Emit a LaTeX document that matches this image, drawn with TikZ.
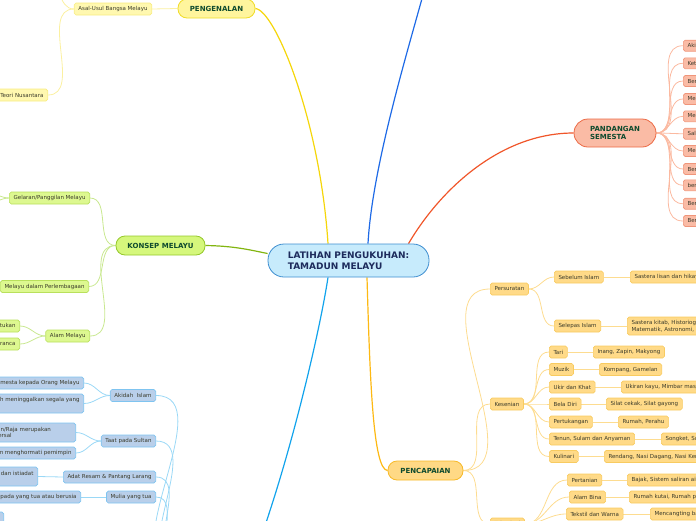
\documentclass[tikz,border=0pt]{standalone}
\usepackage{fontspec}
\setmainfont{DejaVu Sans}
\usetikzlibrary{backgrounds}
\definecolor{cfill}{HTML}{C7EBFC}
\definecolor{cdraw}{HTML}{3E8ED0}
\definecolor{ctext}{HTML}{1D2B5C}
\definecolor{titletext}{HTML}{0E4A2E}
\definecolor{leaftext}{HTML}{3A3A2A}
\definecolor{yline}{HTML}{F5D60A}
\definecolor{ytfill}{HTML}{FFF59D}
\definecolor{ytdraw}{HTML}{F0DC28}
\definecolor{yfill}{HTML}{FFF8B0}
\definecolor{ydraw}{HTML}{F8EC80}
\definecolor{ylink}{HTML}{FBF0A0}
\definecolor{gline}{HTML}{82B510}
\definecolor{gtfill}{HTML}{D5F77C}
\definecolor{gtdraw}{HTML}{95C82A}
\definecolor{gfill}{HTML}{DDF890}
\definecolor{gdraw}{HTML}{B9E05C}
\definecolor{glink}{HTML}{C9E890}
\definecolor{rline}{HTML}{F0562A}
\definecolor{rtfill}{HTML}{FABBA5}
\definecolor{rtdraw}{HTML}{EC6A45}
\definecolor{rfill}{HTML}{FABBA5}
\definecolor{rdraw}{HTML}{F0957A}
\definecolor{rlink}{HTML}{FBB9A0}
\definecolor{oline}{HTML}{FDB913}
\definecolor{otfill}{HTML}{FFD985}
\definecolor{otdraw}{HTML}{F7B927}
\definecolor{ofill}{HTML}{FFDA88}
\definecolor{odraw}{HTML}{F8CB60}
\definecolor{olink}{HTML}{FDDC90}
\definecolor{bline}{HTML}{12A3EC}
\definecolor{bfill}{HTML}{B9CFEA}
\definecolor{bdraw}{HTML}{7FC4F0}
\definecolor{blink}{HTML}{9AD8F6}
\definecolor{dbline}{HTML}{1E6AE6}
\tikzset{
  leaf/.style={draw, rounded corners=1.8pt, font=\fontsize{5.5}{6.6}\selectfont, text=leaftext,
    inner xsep=4.2pt, inner ysep=1pt, minimum height=12pt, line width=0.6pt, align=left},
  yleaf/.style={leaf, fill=yfill, draw=ydraw},
  gleaf/.style={leaf, fill=gfill, draw=gdraw},
  rleaf/.style={leaf, fill=rfill, draw=rdraw, minimum height=11pt},
  oleaf/.style={leaf, fill=ofill, draw=odraw},
  bleaf/.style={leaf, fill=bfill, draw=bdraw},
  title/.style={draw, line width=0.8pt, font=\bfseries\fontsize{7}{8.4}\selectfont, text=titletext,
    minimum height=19pt, rounded corners=9pt, inner xsep=0pt, align=center},
  central/.style={draw=cdraw, fill=cfill, line width=0.8pt, rounded corners=16pt,
    minimum width=161pt, minimum height=33pt, font=\bfseries\fontsize{9}{10.5}\selectfont,
    text=ctext, align=left},
  mainlink/.style={line width=1.2pt},
  ylk/.style={draw=ylink, line width=0.8pt},
  glk/.style={draw=glink, line width=0.8pt},
  rlk/.style={draw=rlink, line width=0.8pt},
  olk/.style={draw=olink, line width=0.8pt},
  blk/.style={draw=blink, line width=0.8pt},
  curve/.style={out=0, in=180},
  lcurve/.style={out=180, in=0}
}
\begin{document}
\begin{tikzpicture}[x=1pt,y=-1pt]
\useasboundingbox (0,0) rectangle (696,520);
\clip (0,0) rectangle (696,520);

% central
\node[central] (c) at (348.5,260.5) {LATIHAN PENGUKUHAN:\\TAMADUN MELAYU};

% PENGENALAN
\node[title, fill=ytfill, draw=ytdraw, minimum width=77pt] (peng) at (216.5,8.5) {PENGENALAN};
\node[yleaf, anchor=east] (asal) at (152,9) {Asal-Usul Bangsa Melayu};
\node[yleaf, anchor=east] (teori) at (48,95) {Teori Nusantara};
\coordinate (asalup) at (45,-20);

% KONSEP MELAYU
\node[title, fill=gtfill, draw=gtdraw, minimum width=89pt] (konsep) at (160.5,245.5) {KONSEP MELAYU};
\node[gleaf, anchor=east] (gelaran) at (90,198) {Gelaran/Panggilan Melayu};
\node[gleaf, anchor=east] (perlem) at (89,286.5) {Melayu dalam Perlembagaan};
\node[gleaf, anchor=east] (alam) at (90,336) {Alam Melayu};
\node[gleaf, anchor=east] (alama) at (20,326) {Kawasan yang ditentukan};
\node[gleaf, anchor=east] (alamb) at (20,344) {Bahasa Melayu sebagai Lingua Franca};
\coordinate (gela) at (-12,193);
\coordinate (gelb) at (-12,203);

% PANDANGAN SEMESTA
\node[title, fill=rtfill, draw=rtdraw, minimum width=82pt, minimum height=28pt, rounded corners=14pt, align=left] (pand) at (615,133) {PANDANGAN\\SEMESTA};
\foreach \yy/\tt [count=\i] in {45.7/Akidah, 63.3/Ketuhanan, 81/Beradab, 99/Menghormati, 116.3/Menjaga, 133.7/Salasilah, 151/Mengenang, 169/Berbudi, 185.3/berbahasa, 203.7/Bersatu, 221/Bertanggungjawab}
  \node[rleaf, anchor=west] (p\i) at (683,\yy) {\tt};

% PENCAPAIAN
\node[title, fill=otfill, draw=otdraw, minimum width=75pt] (penc) at (425.5,470.5) {PENCAPAIAN};
\node[oleaf, anchor=west] (surat) at (490,289) {Persuratan};
\node[oleaf, anchor=west] (seni) at (490,404) {Kesenian};
\node[oleaf, anchor=west] (tekno) at (490,524) {Teknologi};
\node[oleaf, anchor=west] (sebelum) at (554,277) {Sebelum Islam};
\node[oleaf, anchor=west] (sebelumx) at (630,277) {Sastera lisan dan hikayat};
\node[oleaf, anchor=west] (selepas) at (554,326) {Selepas Islam};
\node[oleaf, anchor=west, minimum height=18pt] (selepasx) at (627,326) {Sastera kitab, Historiografi,\\Matematik, Astronomi, Perubatan};
\node[oleaf, anchor=west] (tari) at (549,352) {Tari};
\node[oleaf, anchor=west] (tarix) at (593,352) {Inang, Zapin, Makyong};
\node[oleaf, anchor=west] (muzik) at (549,369.5) {Muzik};
\node[oleaf, anchor=west] (muzikx) at (599,369.5) {Kompang, Gamelan};
\node[oleaf, anchor=west] (ukir) at (549,387) {Ukir dan Khat};
\node[oleaf, anchor=west] (ukirx) at (621,387) {Ukiran kayu, Mimbar masjid};
\node[oleaf, anchor=west] (bela) at (549,404) {Bela Diri};
\node[oleaf, anchor=west] (belax) at (606,404) {Silat cekak, Silat gayong};
\node[oleaf, anchor=west] (tukang) at (549,422) {Pertukangan};
\node[oleaf, anchor=west] (tukangx) at (618,422) {Rumah, Perahu};
\node[oleaf, anchor=west] (tenun) at (549,439) {Tenun, Sulam dan Anyaman};
\node[oleaf, anchor=west] (tenunx) at (661,439) {Songket, Sulaman, Anyaman tikar};
\node[oleaf, anchor=west] (kuli) at (549,456.5) {Kulinari};
\node[oleaf, anchor=west] (kulix) at (604,456.5) {Rendang, Nasi Dagang, Nasi Kerabu};
\node[oleaf, anchor=west] (tani) at (567,480) {Pertanian};
\node[oleaf, anchor=west] (tanix) at (627,480) {Bajak, Sistem saliran air};
\node[oleaf, anchor=west] (bina) at (569,497) {Alam Bina};
\node[oleaf, anchor=west] (binax) at (629,497) {Rumah kutai, Rumah panjang};
\node[oleaf, anchor=west] (tekstil) at (566,514) {Tekstil dan Warna};
\node[oleaf, anchor=west] (tekstilx) at (650,514) {Mencangting batik};

% blue group
\coordinate (nilai) at (176,565);
\coordinate (bluebot) at (260,540);
\node[bleaf, anchor=east] (akidah) at (156,395.5) {Akidah~ Islam};
\node[bleaf, anchor=east] (akia) at (84,383) {Memberi pandangan semesta kepada Orang Melayu};
\node[bleaf, anchor=east, minimum height=19pt] (akib) at (84,403.5) {Islam menyuruh meninggalkan segala yang\\dilarang};
\node[bleaf, anchor=east] (taat) at (156,441) {Taat pada Sultan};
\node[bleaf, anchor=east, text width=85pt, minimum height=19pt] (taata) at (76,432.5) {Sultan/Raja merupakan\\universal};
\node[bleaf, anchor=east] (taatb) at (76,453) {Kewajipan menghormati pemimpin};
\node[bleaf, anchor=east] (adat) at (156,477) {Adat Resam \& Pantang Larang};
\node[bleaf, anchor=east, minimum height=19pt] (adata) at (38,476.5) {Mengamalkan adat dan istiadat\\warisan};
\node[bleaf, anchor=east] (mulia) at (156,497) {Mulia yang tua};
\node[bleaf, anchor=east] (muliaa) at (81,497) {Menghormati kepada yang tua atau berusia};
\node[bleaf, anchor=east] (sopan) at (4,518) {Bersopan santun};

\coordinate (topblue) at (423,-5);

\begin{scope}[on background layer]
  % main branches
  \draw[mainlink, draw=yline] ([xshift=-20.5pt]c.north) .. controls (320,120) and (275,10) .. (peng.east);
  \draw[mainlink, draw=dbline] ([xshift=19.5pt]c.north) .. controls (372,170) and (405,60) .. (topblue);
  \draw[mainlink, draw=rline] ([xshift=60pt]c.north) .. controls (440,190) and (500,133) .. (pand.west);
  \draw[mainlink, draw=gline] ([yshift=7pt]c.west) .. controls (250,250) and (235,246) .. (konsep.east);
  \draw[mainlink, draw=oline] ([xshift=18.5pt]c.south) .. controls (370,380) and (373,470) .. (penc.west);
  \draw[mainlink, draw=bline] ([xshift=-20.5pt]c.south) .. controls (320,330) and (292,450) .. (bluebot);

  % yellow
  \draw[ylk] (peng.west) -- (asal.east);
  \draw[ylk] (asal.west) to[lcurve] (teori.east);
  \draw[ylk] (asal.west) to[lcurve] (asalup);

  % green
  \draw[glk] (konsep.west) to[lcurve] (gelaran.east);
  \draw[glk] (konsep.west) to[lcurve] (perlem.east);
  \draw[glk] (konsep.west) to[lcurve] (alam.east);
  \draw[glk] (alam.west) to[lcurve] (alama.east);
  \draw[glk] (alam.west) to[lcurve] (alamb.east);
  \draw[glk] (gelaran.west) to[lcurve] (gela);
  \draw[glk] (gelaran.west) to[lcurve] (gelb);

  % red
  \foreach \i in {1,...,11} \draw[rlk] (pand.east) to[curve] (p\i.west);

  % orange
  \draw[olk] (penc.east) to[curve] (surat.west);
  \draw[olk] (penc.east) to[curve] (seni.west);
  \draw[olk] (penc.east) to[curve] (tekno.west);
  \draw[olk] (surat.east) to[curve] (sebelum.west);
  \draw[olk] (surat.east) to[curve] (selepas.west);
  \draw[olk] (sebelum.east) -- (sebelumx.west);
  \draw[olk] (selepas.east) -- (selepasx.west);
  \foreach \a/\b in {tari/tarix, muzik/muzikx, ukir/ukirx, bela/belax, tukang/tukangx, tenun/tenunx, kuli/kulix} {
    \draw[olk] (seni.east) to[curve] (\a.west);
    \draw[olk] (\a.east) -- (\b.west);
  }
  \foreach \a/\b in {tani/tanix, bina/binax, tekstil/tekstilx} {
    \draw[olk] (tekno.east) to[curve] (\a.west);
    \draw[olk] (\a.east) -- (\b.west);
  }

  % blue
  \foreach \a in {akidah, taat, adat, mulia} \draw[blk] (\a.east) to[curve] (nilai);
  \draw[blk] (akidah.west) to[lcurve] (akia.east);
  \draw[blk] (akidah.west) to[lcurve] (akib.east);
  \draw[blk] (taat.west) to[lcurve] (taata.east);
  \draw[blk] (taat.west) to[lcurve] (taatb.east);
  \draw[blk] (adat.west) -- (adata.east);
  \draw[blk] (mulia.west) -- (muliaa.east);
\end{scope}
\end{tikzpicture}
\end{document}
